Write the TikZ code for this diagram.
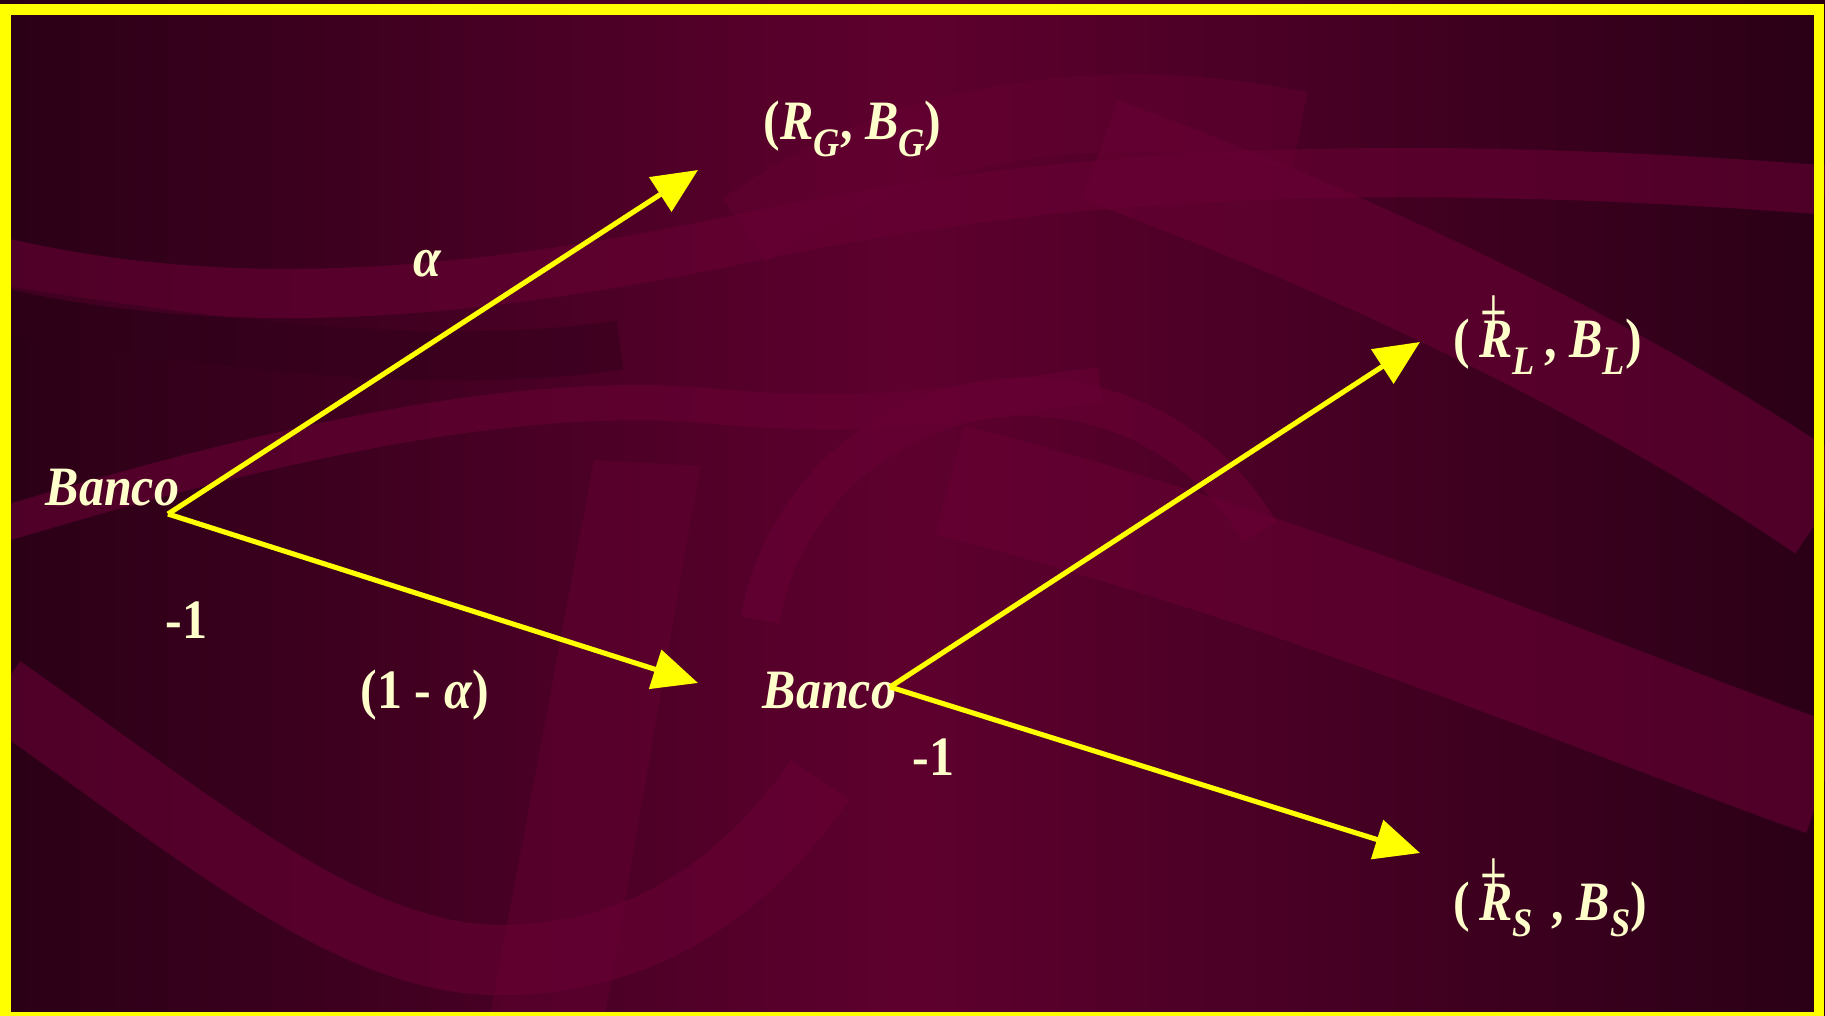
\documentclass[tikz,border=0pt]{standalone}
\usepackage{fontspec}
\setmainfont{Liberation Serif}[FakeStretch=0.9]
\usetikzlibrary{arrows.meta}
\definecolor{bgdark}{HTML}{2A0016}
\definecolor{bgmid}{HTML}{5E002E}
\definecolor{lightband}{HTML}{680034}
\definecolor{darkband}{HTML}{30001A}
\definecolor{cream}{HTML}{FFFFCC}
\definecolor{frameyellow}{HTML}{FFFF00}
\newcommand\sbs[1]{\raisebox{-0.3em}{\fontsize{11.5}{12}\selectfont\bfseries\itshape #1}}
\newcommand\plusR{\rlap{\raisebox{0.36em}{\kern0.02em\fontsize{15}{15}\mdseries\upshape\scalebox{1}[1.4]{+}}}}
\tikzset{
  lbl/.style={text=cream, inner sep=0pt, anchor=base west, font=\fontsize{15.8}{18}\selectfont\bfseries},
  arr/.style={draw=frameyellow, line width=1.45pt, -{Triangle[length=12.8pt,width=11.4pt]}},
  ribbon/.style={draw=lightband, opacity=0.6, line cap=butt},
}
\begin{document}
\begin{tikzpicture}[x=0.01cm,y=-0.01cm]
\useasboundingbox (0,0) rectangle (1825,1016);
\begin{scope}
\clip (0,0) rectangle (1825,1016);
\shade[left color=bgdark, right color=bgdark, middle color=bgmid] (0,0) rectangle (1825,1016);
% decorative ribbons
\draw[ribbon, line width=14pt] (0,262) .. controls (250,320) and (500,290) .. (760,235) .. controls (1000,185) and (1300,150) .. (1825,190);
\draw[ribbon, line width=30pt] (1100,150) .. controls (1400,260) and (1650,390) .. (1825,510);
\draw[ribbon, line width=10pt] (0,525) .. controls (250,450) and (500,390) .. (700,405) .. controls (900,425) and (1000,395) .. (1100,385);
\draw[ribbon, line width=20pt] (0,690) .. controls (200,830) and (350,960) .. (500,960) .. controls (650,960) and (750,880) .. (820,780);
\draw[ribbon, line width=32pt] (950,480) .. controls (1300,570) and (1600,700) .. (1825,780);
\fill[lightband, opacity=0.4] (594,460) -- (700,466) -- (605,1016) -- (490,1016) -- cycle;
\draw[ribbon, line width=11pt] (760,620) arc[start angle=190, end angle=330, radius=270];
\draw[draw=darkband, opacity=0.45, line width=14pt] (0,310) .. controls (250,350) and (450,370) .. (620,345);
\draw[ribbon, opacity=0.4, line width=22pt] (745,230) .. controls (900,120) and (1100,90) .. (1300,130);
\end{scope}
% frame
\draw[frameyellow, line width=2.85pt] (5.5,9.5) rectangle (1819,1017);

% texts
\node[lbl] (banco1) at (45,505) {\itshape Banco};
\node[lbl] (banco2) at (762,708) {\itshape Banco};
\node[lbl] (m1a) at (165,638) {-1};
\node[lbl] (m1b) at (912,775) {-1};
\node[lbl] (alpha) at (413,277) {\itshape α};
\node[lbl] (oneminus) at (360,708) {(1 - \textit{α})};
\node[lbl] (rg) at (763,140) {(\textit{R}\sbs{G}\textbf{,} \textit{B}\sbs{G})};
\node[lbl] (rl) at (1453,358) {(\,\plusR\textit{R}\sbs{L}\,, \textit{B}\sbs{L})};
\node[lbl] (rs) at (1453,920) {(\,\plusR\textit{R}\sbs{S}\,\,, \textit{B}\sbs{S})};

% connector end points
\coordinate (s1) at (168,514);
\coordinate (t1) at (698,170);
\coordinate (t2) at (698,683);
\coordinate (s2) at (890,687);
\coordinate (t3) at (1420,342);
\coordinate (t4) at (1420,853);

\draw[arr] (s1) -- (t1);
\draw[arr] (s1) -- (t2);
\draw[arr] (s2) -- (t3);
\draw[arr] (s2) -- (t4);
\end{tikzpicture}
\end{document}
